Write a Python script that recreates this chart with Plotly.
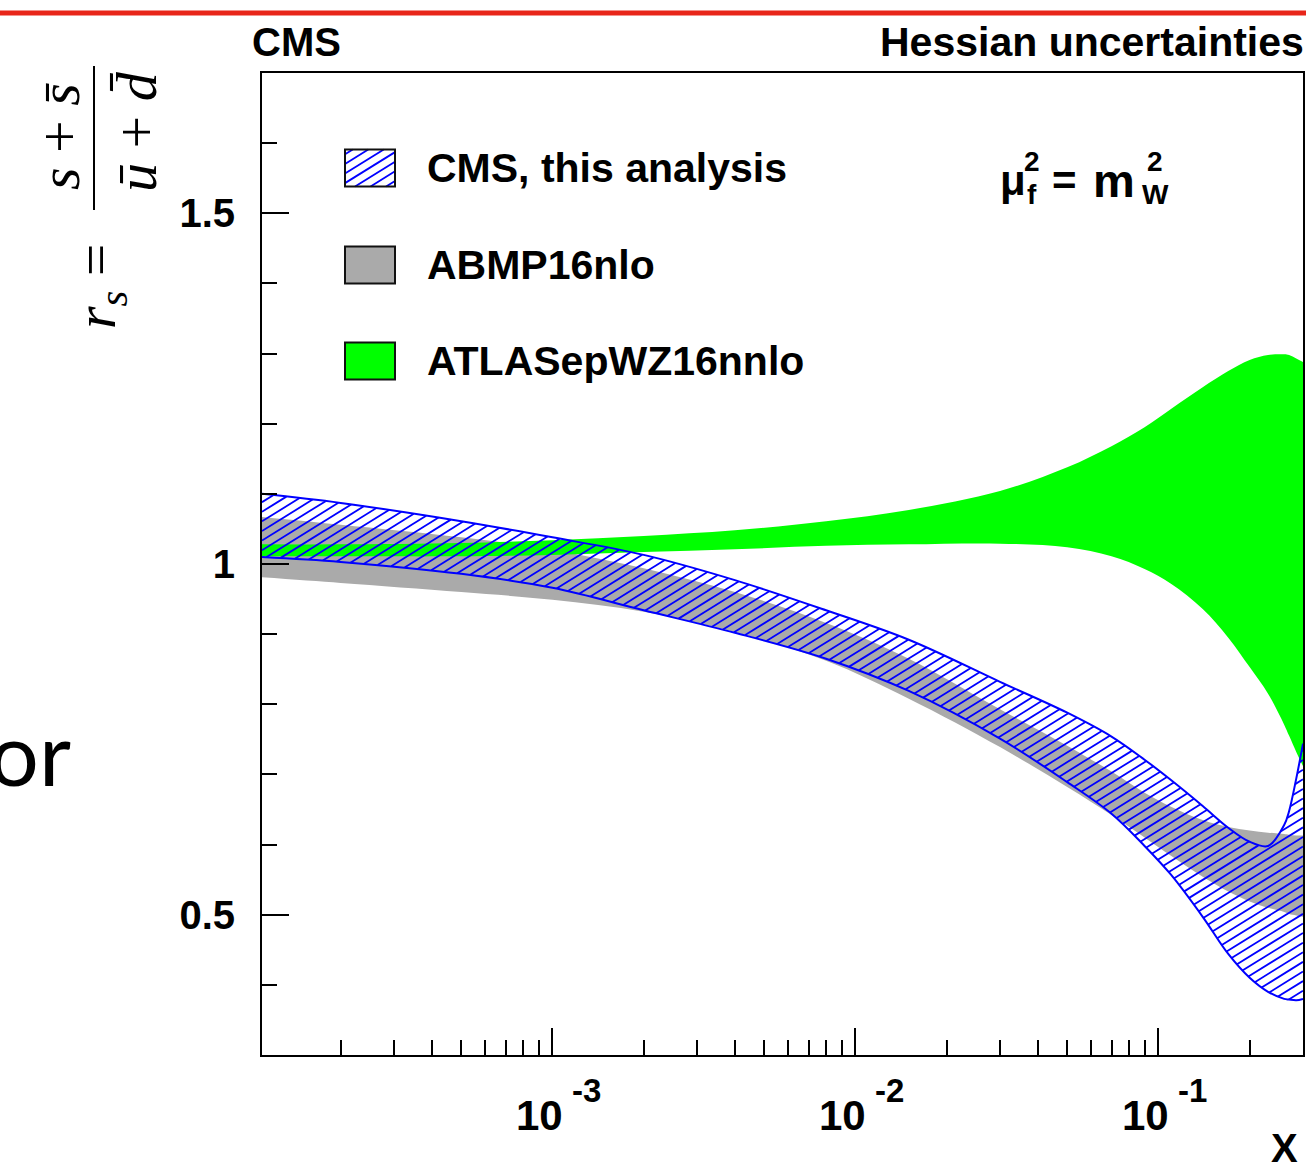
import numpy as np
import plotly.graph_objects as go

# ---------------- data ----------------
x_vals = [1.1e-4, 2e-4, 5e-4, 1e-3, 2e-3, 4e-3, 8e-3, 0.015, 0.03, 0.05, 0.07,
          0.09, 0.11, 0.14, 0.17, 0.2, 0.23, 0.26, 0.27, 0.285, 0.3]
cms_hi = [1.100, 1.087, 1.061, 1.038, 1.013, 0.977, 0.934, 0.892, 0.832, 0.788, 0.754,
          0.721, 0.692, 0.655, 0.624, 0.604, 0.598, 0.628, 0.648, 0.694, 0.744]
cms_lo = [1.010, 1.003, 0.986, 0.966, 0.934, 0.902, 0.865, 0.819, 0.751, 0.689, 0.644,
          0.598, 0.557, 0.497, 0.444, 0.410, 0.390, 0.380, 0.379, 0.378, 0.380]
abmp_hi = [1.067, 1.056, 1.038, 1.020, 0.994, 0.960, 0.916, 0.865, 0.793, 0.741, 0.704,
           0.674, 0.654, 0.635, 0.625, 0.620, 0.617, 0.615, 0.614, 0.613, 0.613]
abmp_lo = [0.981, 0.973, 0.960, 0.949, 0.932, 0.903, 0.862, 0.808, 0.739, 0.682, 0.642,
           0.610, 0.584, 0.554, 0.533, 0.519, 0.510, 0.504, 0.501, 0.499, 0.497]
atlas_hi = [1.028, 1.028, 1.030, 1.034, 1.040, 1.048, 1.061, 1.077, 1.104, 1.138, 1.168,
            1.195, 1.221, 1.252, 1.275, 1.291, 1.298, 1.299, 1.298, 1.293, 1.288]
atlas_lo = [1.011, 1.011, 1.011, 1.013, 1.017, 1.021, 1.026, 1.028, 1.029, 1.024, 1.011,
            0.993, 0.972, 0.936, 0.895, 0.853, 0.815, 0.771, 0.755, 0.732, 0.712]

legend_names = ["CMS, this analysis", "ABMP16nlo", "ATLASepWZ16nnlo"]
x_major = [1e-3, 1e-2, 1e-1]
x_major_base = ["10", "10", "10"]
x_major_exp = ["-3", "-2", "-1"]
y_major = [0.5, 1.0, 1.5]
y_major_text = ["<b>0.5</b>", "<b>1</b>", "<b>1.5</b>"]
y_minor = [0.4, 0.6, 0.7, 0.8, 0.9, 1.1, 1.2, 1.3, 1.4, 1.6]

# ---------------- layout geometry ----------------
FIG_W, FIG_H = 1306, 1167
M_L, M_R, M_T, M_B = 262, 3, 73, 112
PW = FIG_W - M_L - M_R
PH = FIG_H - M_T - M_B
XLO, XHI = np.log10(1.1e-4), np.log10(0.3)
YLO, YHI = 0.3, 1.7

BLUE = "#0000ff"
GRAY = "#aaaaaa"
GREEN = "#00ff00"
FONT = "Liberation Sans"
SERIF = "Liberation Serif"

HATCH_SLOPE = 0.62
HATCH_SPACING = 15.5
HATCH_WIDTH = 1.8


def to_pix(x, y):
    u = (np.log10(np.asarray(x, float)) - XLO) / (XHI - XLO) * PW
    v = (np.asarray(y, float) - YLO) / (YHI - YLO) * PH
    return u, v


def from_pix(u, v):
    x = 10 ** (XLO + np.asarray(u, float) / PW * (XHI - XLO))
    y = YLO + np.asarray(v, float) / PH * (YHI - YLO)
    return x, y


def tangent(p0, p1, p2, s=1.0):
    d1 = p0 - p1
    d2 = p2 - p1
    d1a = (d1 @ d1) ** 0.25
    d2a = (d2 @ d2) ** 0.25
    num = (d2a ** 2 * d1 - d1a ** 2 * d2) * s
    den1 = 3 * d2a * (d1a + d2a)
    den2 = 3 * d1a * (d1a + d2a)
    return p1 + num / den1, p1 - num / den2


def spline_curve(u, v, n=40):
    # same construction as plotly's 'spline' line shape (smoothing 1)
    P = np.column_stack([u, v])
    T = [tangent(P[i - 1], P[i], P[i + 1]) for i in range(1, len(P) - 1)]
    t = np.linspace(0, 1, n)[:, None]
    segs = []
    a, c, b = P[0], T[0][0], P[1]
    segs.append((1 - t) ** 2 * a + 2 * (1 - t) * t * c + t ** 2 * b)
    for i in range(2, len(P) - 1):
        a, c1, c2, b = P[i - 1], T[i - 2][1], T[i - 1][0], P[i]
        segs.append((1 - t) ** 3 * a + 3 * (1 - t) ** 2 * t * c1
                    + 3 * (1 - t) * t ** 2 * c2 + t ** 3 * b)
    a, c, b = P[-2], T[-1][1], P[-1]
    segs.append((1 - t) ** 2 * a + 2 * (1 - t) * t * c + t ** 2 * b)
    C = np.vstack(segs)
    return C[:, 0], C[:, 1]


def band_hatch(x, lo, hi, slope, spacing):
    ul, vl = spline_curve(*to_pix(x, lo))
    uh, vh = spline_curve(*to_pix(x, hi))
    ol, oh = np.argsort(ul), np.argsort(uh)
    uu = np.arange(0, PW + 1e-6, 0.2)
    lo_i = np.interp(uu, ul[ol], vl[ol])
    hi_i = np.interp(uu, uh[oh], vh[oh])
    dc = slope * spacing
    cmin = lo_i.min() - slope * PW - dc
    cmax = hi_i.max() + dc
    xs, ys = [], []
    for c in np.arange(cmin, cmax, dc):
        vv = slope * uu + c
        ins = (vv > lo_i) & (vv < hi_i)
        if not ins.any():
            continue
        d = np.diff(ins.astype(int))
        starts = list(np.where(d == 1)[0] + 1)
        ends = list(np.where(d == -1)[0])
        if ins[0]:
            starts = [0] + starts
        if ins[-1]:
            ends = ends + [len(uu) - 1]
        for s_, e_ in zip(starts, ends):
            if e_ <= s_:
                continue
            hx, hy = from_pix([uu[s_], uu[e_]], [vv[s_], vv[e_]])
            xs += list(hx) + [None]
            ys += list(hy) + [None]
    return xs, ys


def pxp(px):
    return (px - M_L) / PW


def pyp(py):
    return (FIG_H - M_B - py) / PH


def label(text, px, py, size, xanchor="left", family=FONT, angle=0):
    return dict(text=text, xref="paper", yref="paper", x=pxp(px), y=pyp(py),
                xanchor=xanchor, yanchor="middle", showarrow=False, textangle=angle,
                font=dict(family=family, size=size, color="black"))


fig = go.Figure()

# ABMP16nlo band (grey)
fig.add_trace(go.Scatter(x=x_vals, y=abmp_lo, mode="lines",
                         line=dict(width=0, shape="spline", simplify=False),
                         showlegend=False, hoverinfo="skip"))
fig.add_trace(go.Scatter(x=x_vals, y=abmp_hi, mode="lines", fill="tonexty",
                         fillcolor=GRAY, line=dict(width=0, shape="spline", simplify=False),
                         name=legend_names[1], showlegend=False, hoverinfo="skip"))
# ATLASepWZ16nnlo band (green)
fig.add_trace(go.Scatter(x=x_vals, y=atlas_lo, mode="lines",
                         line=dict(width=0, shape="spline", simplify=False),
                         showlegend=False, hoverinfo="skip"))
fig.add_trace(go.Scatter(x=x_vals, y=atlas_hi, mode="lines", fill="tonexty",
                         fillcolor=GREEN, line=dict(width=0, shape="spline", simplify=False),
                         name=legend_names[2], showlegend=False, hoverinfo="skip"))
# CMS band: hatch + outline
hx, hy = band_hatch(x_vals, cms_lo, cms_hi, HATCH_SLOPE, HATCH_SPACING)
fig.add_trace(go.Scatter(x=hx, y=hy, mode="lines", line=dict(color=BLUE, width=HATCH_WIDTH),
                         showlegend=False, hoverinfo="skip", connectgaps=False))
fig.add_trace(go.Scatter(x=x_vals, y=cms_lo, mode="lines",
                         line=dict(color=BLUE, width=2, shape="spline", simplify=False),
                         showlegend=False, hoverinfo="skip"))
fig.add_trace(go.Scatter(x=x_vals, y=cms_hi, mode="lines",
                         line=dict(color=BLUE, width=2, shape="spline", simplify=False),
                         name=legend_names[0], showlegend=False, hoverinfo="skip"))

shapes = []
annotations = []

# ---- custom legend ----
box_x0, box_x1 = 345, 395
box_h = 37
row_y = [168, 265, 361]
fills = [None, GRAY, GREEN]
for name, yc, fc in zip(legend_names, row_y, fills):
    y0, y1 = yc - box_h / 2, yc + box_h / 2
    if fc is None:
        dc = HATCH_SLOPE * HATCH_SPACING
        for c in np.arange(y0 + HATCH_SLOPE * box_x0 + dc / 2,
                           y1 + HATCH_SLOPE * box_x1 + dc, dc):
            xa = max(box_x0, (c - y1) / HATCH_SLOPE)
            xb = min(box_x1, (c - y0) / HATCH_SLOPE)
            if xb - xa < 0.5:
                continue
            shapes.append(dict(type="line", xref="paper", yref="paper",
                               x0=pxp(xa), y0=pyp(c - HATCH_SLOPE * xa),
                               x1=pxp(xb), y1=pyp(c - HATCH_SLOPE * xb),
                               line=dict(color=BLUE, width=HATCH_WIDTH)))
        shapes.append(dict(type="rect", xref="paper", yref="paper",
                           x0=pxp(box_x0), x1=pxp(box_x1), y0=pyp(y1), y1=pyp(y0),
                           line=dict(color="#111111", width=2)))
    else:
        shapes.append(dict(type="rect", xref="paper", yref="paper",
                           x0=pxp(box_x0), x1=pxp(box_x1), y0=pyp(y1), y1=pyp(y0),
                           fillcolor=fc, line=dict(color="#111111", width=2)))
    annotations.append(label("<b>%s</b>" % name, 425, yc, 41))

# ---- x tick labels in ROOT style: "10" with a raised exponent ----
for xv, base, ex in zip(x_major, x_major_base, x_major_exp):
    annotations.append(dict(text="<b>%s</b>" % base, xref="x", yref="paper",
                            x=np.log10(xv), y=pyp(1115), xshift=-13,
                            xanchor="center", yanchor="middle", showarrow=False,
                            font=dict(family=FONT, size=42, color="black")))
    annotations.append(dict(text="<b>%s</b>" % ex, xref="x", yref="paper",
                            x=np.log10(xv), y=pyp(1090), xshift=34,
                            xanchor="center", yanchor="middle", showarrow=False,
                            font=dict(family=FONT, size=33, color="black")))

# ---- header texts ----
annotations.append(label("<b>CMS</b>", 250, 42, 40))
annotations.append(label("<b>Hessian uncertainties</b>", 878, 42, 41))
# mu_f^2 = m_W^2
annotations.append(label("<b>\u03bc</b>", 998, 180, 42))
annotations.append(label("<b>2</b>", 1022, 161, 28))
annotations.append(label("<b>f</b>", 1025, 195, 28))
annotations.append(label("<b>=</b>", 1050, 180, 42))
annotations.append(label("<b>m</b>", 1091, 180, 47))
annotations.append(label("<b>2</b>", 1145, 161, 28))
annotations.append(label("<b>W</b>", 1140, 195, 28))
# x-axis title
annotations.append(label("<b>X</b>", 1300, 1148, 40, xanchor="right"))
# y-axis title  r_s = (s + sbar)/(ubar + dbar)
annotations.append(label("<i>r</i><sub><i>s</i></sub> =", 100, 286, 58,
                         xanchor="center", family=SERIF, angle=-90))
annotations.append(label("<i>s</i> + <i>s\u0304</i>", 60, 136, 58,
                         xanchor="center", family=SERIF, angle=-90))
annotations.append(label("<i>\u016b</i> + <i>d\u0304</i>", 136, 132, 58,
                         xanchor="center", family=SERIF, angle=-90))
shapes.append(dict(type="line", xref="paper", yref="paper", x0=pxp(94), x1=pxp(94),
                   y0=pyp(66), y1=pyp(210), line=dict(color="black", width=2)))

# ---- slide context: red rule and clipped word ----
shapes.append(dict(type="line", xref="paper", yref="paper", x0=pxp(0), x1=pxp(FIG_W),
                   y0=pyp(13), y1=pyp(13), line=dict(color="#e8261a", width=5)))
annotations.append(label("or", 73, 752, 88, xanchor="right", family="Lato"))

x_minor = [k * 10.0 ** e for e in (-4, -3, -2, -1) for k in range(2, 10)
           if 1.1e-4 < k * 10.0 ** e < 0.299]

fig.update_layout(
    width=FIG_W, height=FIG_H,
    margin=dict(l=M_L, r=M_R, t=M_T, b=M_B, autoexpand=False),
    paper_bgcolor="white", plot_bgcolor="white",
    showlegend=False,
    shapes=shapes, annotations=annotations,
    xaxis=dict(type="log", range=[XLO, XHI], showgrid=False, zeroline=False,
               showline=True, linecolor="black", linewidth=2, mirror=True,
               ticks="inside", ticklen=27, tickwidth=2, tickcolor="black",
               tickvals=x_major, showticklabels=False,
               minor=dict(tickvals=x_minor, ticks="inside", ticklen=15, tickwidth=2,
                          tickcolor="black")),
    yaxis=dict(range=[YLO, YHI], showgrid=False, zeroline=False,
               showline=True, linecolor="black", linewidth=2, mirror=True,
               ticks="inside", ticklen=27, tickwidth=2, tickcolor="black",
               tickvals=y_major, ticktext=y_major_text, ticklabelstandoff=17,
               tickfont=dict(family=FONT, size=40, color="black"),
               minor=dict(tickvals=y_minor, ticks="inside", ticklen=15, tickwidth=2,
                          tickcolor="black")),
)

fig.write_html("out.html")
